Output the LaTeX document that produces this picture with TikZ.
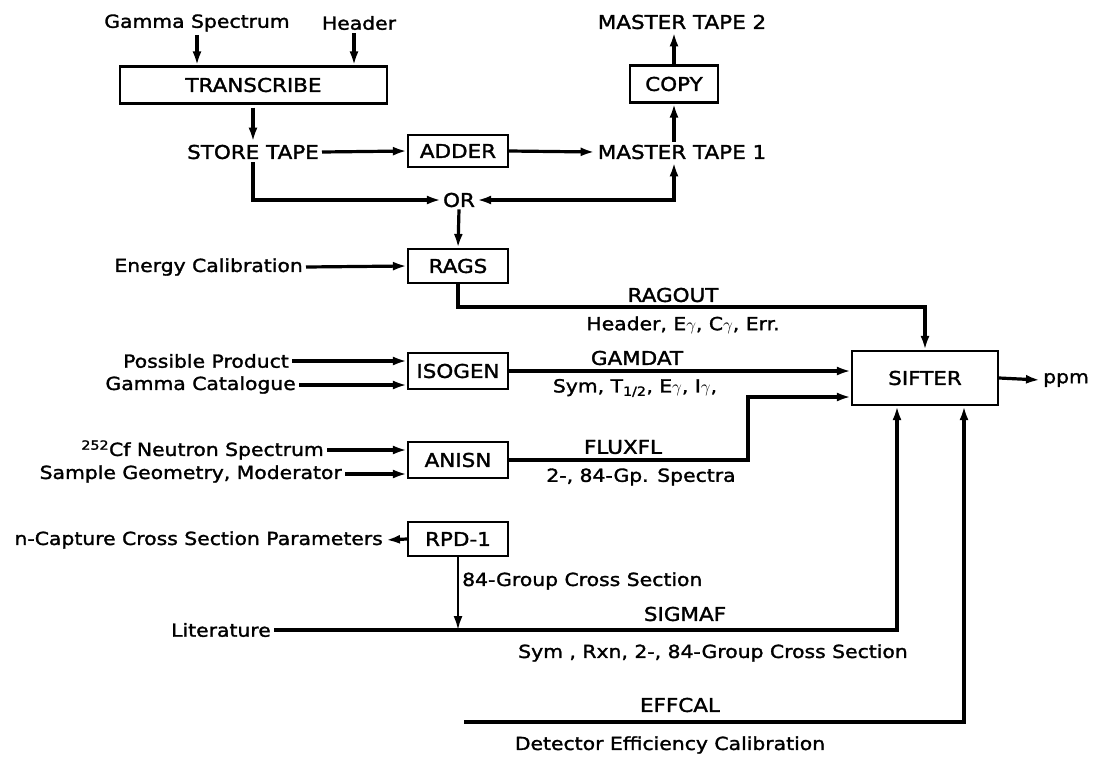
\documentclass[tikz,border=0pt]{standalone}
\usepackage{fontspec}
\setmainfont{DejaVu Sans}[FakeStretch=1.13, FakeBold=1.6]
\usetikzlibrary{arrows.meta,calc}
\begin{document}
\begin{tikzpicture}[x=1pt,y=-1pt,
  every node/.style={inner sep=3pt},
  lcl/.style={font=\fontsize{18}{21}\selectfont},
  ucl/.style={font=\fontsize{19}{22}\selectfont},
  box/.style={draw, line width=2.2pt, ucl, minimum width=100pt, minimum height=35pt, inner sep=0pt},
  conn/.style={line width=3.2pt, -{Latex[length=14pt,width=9pt]}},
  twoway/.style={line width=3.2pt, {Latex[length=14pt,width=9pt]}-{Latex[length=14pt,width=9pt]}},
]
\useasboundingbox (0,0) rectangle (1095,758);

% top section
\node[lcl] (gs) at (197,23) {Gamma Spectrum};
\node[lcl] (hdr) at (359,23) {Header};
\node[box, minimum width=267pt, minimum height=37pt] (trans) at (253.5,85) {TRANSCRIBE};
\node[ucl] (store) at (253,152) {STORE TAPE};
\node[box, minimum height=32pt] (adder) at (458,151) {ADDER};
\node[ucl] (mt1) at (682,152) {MASTER TAPE 1};
\node[box, minimum width=88pt, minimum height=37pt] (copy) at (674,84) {COPY};
\node[ucl] (mt2) at (682,22) {MASTER TAPE 2};
\node[ucl, inner sep=2pt] (or) at (459,200) {OR};
\node[box, minimum height=34pt] (rags) at (458,266) {RAGS};
\node[lcl, anchor=east] (ecal) at (306,267) {Energy Calibration};

% middle boxes and inputs
\node[box, minimum height=36pt] (isogen) at (458,371) {ISOGEN};
\node[lcl, anchor=east] (pp) at (292,361) {Possible Product};
\node[lcl, anchor=east] (gc) at (299,385) {Gamma Catalogue};
\node[box, minimum height=36pt] (anisn) at (458,460) {ANISN};
\node[lcl, anchor=east] (cf) at (327,450) {\textsuperscript{252}Cf Neutron Spectrum};
\node[lcl, anchor=east] (sg) at (345,474) {Sample Geometry, Moderator};
\node[box, minimum height=34pt] (rpd) at (458,539) {RPD-1};
\node[lcl, anchor=east] (ncap) at (386,540) {n-Capture Cross Section Parameters};
\node[lcl, anchor=east] (lit) at (274,630) {Literature};
\node[box, minimum width=146pt, minimum height=54pt] (sifter) at (925,378) {SIFTER};
\node[lcl, anchor=west] (ppm) at (1040,380) {ppm};

% connector labels
\node[ucl] (ragout) at (673,295) {RAGOUT};
\node[lcl] (ragdesc) at (683,325) {Header, E$\gamma$, C$\gamma$, Err.};
\node[ucl] (gamdat) at (637,358) {GAMDAT};
\node[lcl] (gamdesc) at (635,388) {Sym, T\textsubscript{1/2}, E$\gamma$, I$\gamma$,};
\node[ucl] (fluxfl) at (623,447) {FLUXFL};
\node[lcl] (fluxdesc) at (641,477) {2-, 84-Gp. Spectra};
\node[lcl, anchor=west] (g84) at (459,581) {84-Group Cross Section};
\node[ucl] (sigmaf) at (685,614) {SIGMAF};
\node[lcl] (sigdesc) at (713,653) {Sym , Rxn, 2-, 84-Group Cross Section};
\node[ucl] (effcal) at (680,705) {EFFCAL};
\node[lcl] (effdesc) at (670,745) {Detector Efficiency Calibration};

\coordinate (ragbend) at (458,307);
\coordinate (fluxbend) at (748,397);
\coordinate (effstart) at (464,722);

% connectors
\draw[conn] (gs.south) -- (gs.south |- trans.north);
\draw[conn] ([xshift=-5pt]hdr.south) -- ([xshift=-5pt]hdr.south |- trans.north);
\draw[conn, shorten <=3pt] (store.north |- trans.south) -- (store.north);
\draw[conn] (store.east) -- (adder.west);
\draw[conn] (adder.east) -- (mt1.west);
\draw[conn] (copy.south |- mt1.north) -- (copy.south);
\draw[conn] (copy.north) -- (copy.north |- mt2.south);
\draw[conn] (store.south) |- (or.west);
\draw[twoway] (or.east) -| (copy.south |- mt1.south);
\draw[conn] (or.south) -- (rags.north);
\draw[conn] (ecal.east) -- (rags.west);
\draw[conn] (rags.south) |- (sifter.north |- ragbend) -- (sifter.north);
\draw[conn] (pp.east) -- (pp.east -| isogen.west);
\draw[conn] (gc.east) -- (gc.east -| isogen.west);
\draw[conn] (isogen.east) -- (isogen.east -| sifter.west);
\draw[conn] (cf.east) -- (cf.east -| anisn.west);
\draw[conn] (sg.east) -- (sg.east -| anisn.west);
\draw[conn] (anisn.east) -| (fluxbend) -- (fluxbend -| sifter.west);
\draw[conn] (rpd.west) -- (ncap.east);
\draw[conn, line width=2.2pt] (rpd.south) -- (rpd.south |- lit.east);
\draw[conn] (lit.east) -| ([xshift=-28pt]sifter.south);
\draw[conn] (effstart) -| ([xshift=39pt]sifter.south);
\draw[conn] (sifter.east) -- (ppm.west);
\end{tikzpicture}
\end{document}
